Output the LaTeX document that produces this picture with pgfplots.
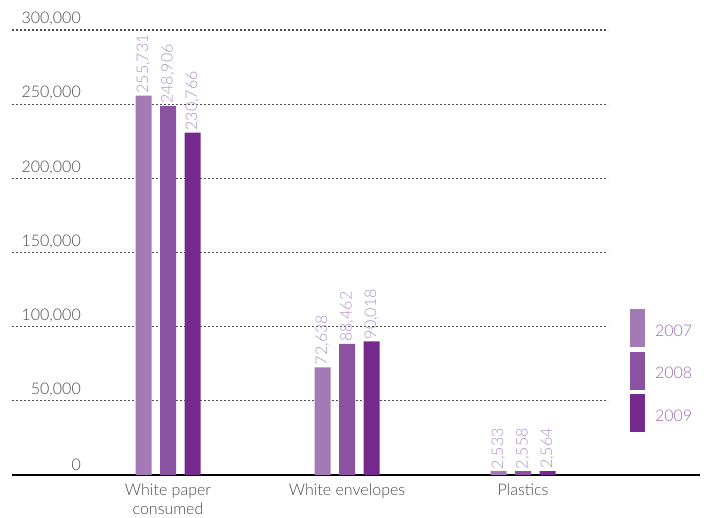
\documentclass[border=0pt]{standalone}
\usepackage{fontspec}
\setmainfont{Lato}[UprightFont=* Light]
\usepackage{pgfplots}
\pgfplotsset{compat=1.18}
\definecolor{cA}{HTML}{A47AB6}
\definecolor{cB}{HTML}{8A52A0}
\definecolor{cC}{HTML}{76298C}
\definecolor{vallab}{HTML}{AE8FCB}
\definecolor{legtext}{HTML}{9A6BB2}
\definecolor{tickgrey}{HTML}{4A4A4A}
\definecolor{gridgrey}{HTML}{505050}
\newcommand{\ff}{\fontsize{16}{19}\selectfont}
\pgfplotsset{myleg/.style={legend image code/.code={\fill[##1] (0pt,-16pt) rectangle (15pt,22pt);}}}
\begin{document}
\begin{tikzpicture}
\begin{axis}[
  scale only axis, width=688pt, height=445pt,
  xmin=12, xmax=700, ymin=0, ymax=300000,
  ybar=8.5pt, bar width=16pt,
  axis x line*=bottom, axis y line*=left,
  x axis line style={black, line width=2pt},
  y axis line style={draw=none},
  major tick length=0pt,
  clip=false,
  /pgf/number format/.cd, fixed, precision=0, 1000 sep={,}, assume math mode=true, /pgfplots/.cd,
  scaled y ticks=false,
  ytick={0,50000,100000,150000,200000,250000,300000},
  yticklabel style={anchor=south east, xshift=69pt, yshift=4pt, inner sep=0pt, text=tickgrey, font=\ff},
  xtick={168,347,523},
  xticklabels={{White paper\\consumed},{White envelopes},{Plastics}},
  xticklabel style={align=center, text=tickgrey, font=\ff, yshift=-5pt},
  nodes near coords,
  nodes near coords style={rotate=90, anchor=west, text=vallab, font=\ff, inner sep=2pt},
  legend style={at={(rel axis cs:0.898,0.373)}, anchor=north west, draw=none, fill=none, inner sep=0pt, font=\ff, text=legtext, row sep=4.5pt, column sep=8pt, cells={anchor=west}},
]
\coordinate (O) at (rel axis cs:0,0);
\draw[gridgrey, line width=1.3pt, dash pattern=on 1.6pt off 2.4pt] (axis cs:12,50000) -- (axis cs:608,50000);
\draw[gridgrey, line width=1.3pt, dash pattern=on 1.6pt off 2.4pt] (axis cs:12,100000) -- (axis cs:608,100000);
\draw[gridgrey, line width=1.3pt, dash pattern=on 1.6pt off 2.4pt] (axis cs:12,150000) -- (axis cs:608,150000);
\draw[gridgrey, line width=1.3pt, dash pattern=on 1.6pt off 2.4pt] (axis cs:12,200000) -- (axis cs:608,200000);
\draw[gridgrey, line width=1.3pt, dash pattern=on 1.6pt off 2.4pt] (axis cs:12,250000) -- (axis cs:608,250000);
\draw[gridgrey, line width=1.3pt, dash pattern=on 1.6pt off 2.4pt] (axis cs:12,300000) -- (axis cs:608,300000);
\addplot[fill=cA, draw=none, myleg] coordinates {(168,255731) (347,72638) (523,2533)};
\addplot[fill=cB, draw=none, myleg] coordinates {(168,248906) (347,88462) (523,2558)};
\addplot[fill=cC, draw=none, myleg] coordinates {(168,230766) (347,90018) (523,2564)};
\legend{2007,2008,2009}
\end{axis}
\pgfresetboundingbox
\useasboundingbox ([shift={(-12pt,-42pt)}]O) rectangle ([shift={(692pt,475pt)}]O);
\end{tikzpicture}
\end{document}
